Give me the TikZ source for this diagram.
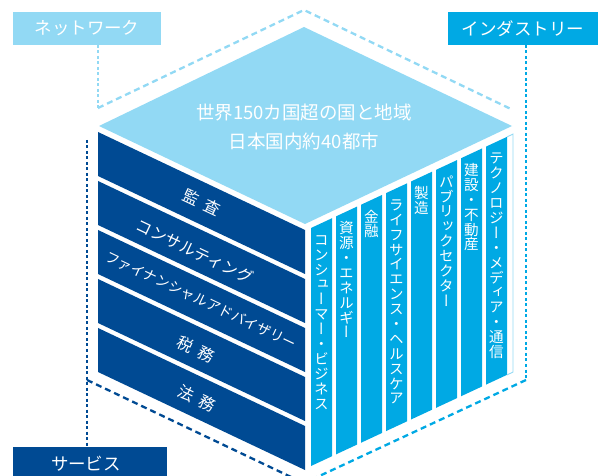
\documentclass[tikz,border=0pt]{standalone}
\usepackage{fontspec}
\setmainfont{Noto Sans CJK JP}
\newfontfamily\vjp[RawFeature=+vert]{Noto Sans CJK JP}
\definecolor{lblue}{RGB}{146,217,244}
\definecolor{bblue}{RGB}{0,169,228}
\definecolor{dblue}{RGB}{0,74,147}
\makeatletter
\def\vtxtend{\vtxtend}
\newcommand\vtxt[1]{\vbox{\offinterlineskip\vtxt@go#1\vtxtend}}
\def\vtxt@go#1{\ifx#1\vtxtend\else\hbox to 1em{\vrule width0pt height .89em depth .13em\hss\smash{#1}\hss}\expandafter\vtxt@go\fi}
\makeatother
\tikzset{
  vdot/.style={line width=2.5pt, dash pattern=on 3pt off 2.5pt},
  ddash/.style={line width=2.3pt, dash pattern=on 6pt off 4pt},
  labelbox/.style={inner sep=0pt, minimum height=33pt, text=white, font=\fontsize{17.5}{17.5}\selectfont},
  toptext/.style={inner sep=0pt, text=white, font=\fontsize{18.5}{18.5}\selectfont},
  bandtext/.style={inner sep=0pt, text=white, rotate=-25.3, font=\fontsize{16}{16}\selectfont},
  striptext/.style={inner sep=0pt, anchor=north, text=white, font=\vjp\fontsize{14.6}{14.6}\selectfont},
}
\begin{document}
\begin{tikzpicture}[x=1pt,y=-1pt]
\useasboundingbox (0,0) rectangle (598,476);
\clip (0,0) rectangle (598,476);

% label boxes
\node[labelbox, fill=lblue, minimum width=148pt] (net) at (87,28.5) {ネットワーク};
\node[labelbox, fill=bblue, minimum width=150pt] (ind) at (523,28.5) {インダストリー};
\node[labelbox, fill=dblue, minimum width=154pt] (srv) at (90,463.5) {};
\node[inner sep=0pt, text=white, font=\fontsize{17.5}{17.5}\selectfont] (srvt) at (86,464) {サービス};

% guide coordinates
\coordinate (n0) at (98,45);
\coordinate (n1) at (98,108);
\coordinate (n2) at (304,10);
\coordinate (n3) at (513,110);
\coordinate (i0) at (526,45);
\coordinate (i1) at (526,380);
\coordinate (i2) at (300,485);
\coordinate (s0) at (87,140);
\coordinate (s1) at (87,447);
\coordinate (s2) at (87,380);
\coordinate (s3) at (310,486);

% dashed guides
\draw[lblue, vdot] (n0) -- (n1);
\draw[lblue, ddash] (n1) -- (n2) -- (n3);
\draw[bblue, vdot] (i0) -- (i1);
\draw[bblue, ddash] (i1) -- (i2);
\draw[dblue, vdot] (s0) -- (s1);
\draw[dblue, ddash] (s2) -- (s3);

% top face
\fill[lblue] (99,126) -- (304,27) -- (512,126) -- (305,224) -- cycle;
\node[toptext] (t1) at (304,113) {世界150カ国超の国と地域};
\node[toptext] (t2) at (304,141) {日本国内約40都市};

% left (service) face
\foreach \k in {0,...,4}
  \fill[dblue] (98,{132+49*\k}) -- (305,{230+49*\k}) -- (305,{274+49*\k}) -- (98,{176+49*\k}) -- cycle;
\node[bandtext] (b1) at (202,202.3) {監\hspace{0.45em}査};
\node[bandtext] (b2) at (195,251.3) {コンサルティング};
\node[bandtext, font=\fontsize{14}{14}\selectfont] (b3) at (201,300.3) {ファイナンシャルアドバイザリー};
\node[bandtext] (b4) at (196,349.3) {税\hspace{0.45em}務};
\node[bandtext] (b5) at (197,398.3) {法\hspace{0.45em}務};

% right (industry) face
\foreach \i in {0,...,7}
  \fill[bblue] ({311+25*\i},{228-0.465*25*\i}) -- ({332+25*\i},{228-0.465*(25*\i+21)})
     -- ({332+25*\i},{466-0.465*(25*\i+21)}) -- ({311+25*\i},{466-0.465*25*\i}) -- cycle;
\draw[lblue, line width=0.9pt] (507,136.9) -- (513,134.1) -- (513,372.1) -- (507,374.9);

\node[striptext] (r1) at (321.5,232.1) {\vtxt{コンシューマー・ビジネス}};
\node[striptext] (r2) at (346.5,220.5) {\vtxt{資源・エネルギー}};
\node[striptext] (r3) at (371.5,208.9) {\vtxt{金融}};
\node[striptext] (r4) at (396.5,197.2) {\vtxt{ライフサイエンス・ヘルスケア}};
\node[striptext] (r5) at (421.5,185.6) {\vtxt{製造}};
\node[striptext] (r6) at (446.5,174.0) {\vtxt{パブリックセクター}};
\node[striptext] (r7) at (471.5,162.3) {\vtxt{建設・不動産}};
\node[striptext] (r8) at (496.5,150.7) {\vtxt{テクノロジー・メディア・通信}};
\end{tikzpicture}
\end{document}
